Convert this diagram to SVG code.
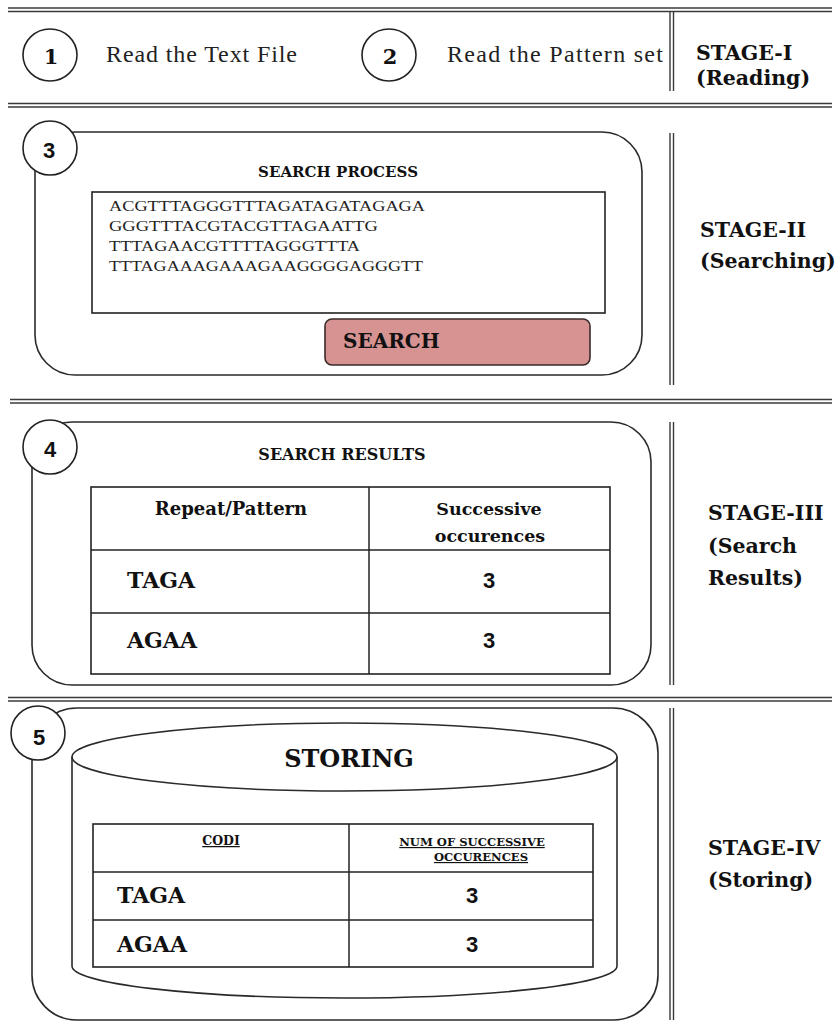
<svg xmlns="http://www.w3.org/2000/svg" width="840" height="1029" viewBox="0 0 840 1029">
<style>
.sep{stroke:#3a3a3a;stroke-width:1.4;fill:none}
.box{fill:none;stroke:#2a2a2a;stroke-width:1.6}
.tbl{fill:#fff;stroke:#222;stroke-width:1.6}
.tl{stroke:#222;stroke-width:1.5}
.nc{fill:#fff;stroke:#222;stroke-width:1.6}
.b{font-family:"DejaVu Serif","Liberation Serif",serif;font-weight:bold;fill:#111}
.r{font-family:"Liberation Serif","Times New Roman",serif;fill:#222}
.s{font-family:"Liberation Sans",Arial,sans-serif;font-weight:bold;fill:#111}
.dna{font-family:"Liberation Serif","Times New Roman",serif;font-size:15px;fill:#222}
.stage{font-size:20.5px}
</style>
<rect width="840" height="1029" fill="#fff"/>
<g id="separators">
<line class="sep" x1="8" y1="8" x2="832" y2="8"/><line class="sep" x1="8" y1="11.5" x2="832" y2="11.5"/>
<line class="sep" x1="8" y1="103.5" x2="832" y2="103.5"/><line class="sep" x1="8" y1="107" x2="832" y2="107"/>
<line class="sep" x1="10" y1="399.5" x2="832" y2="399.5"/><line class="sep" x1="10" y1="403" x2="832" y2="403"/>
<line class="sep" x1="8" y1="697.5" x2="832" y2="697.5"/><line class="sep" x1="8" y1="701" x2="832" y2="701"/>
<line class="sep" x1="670" y1="12" x2="670" y2="91"/><line class="sep" x1="673.5" y1="12" x2="673.5" y2="91"/>
<line class="sep" x1="670" y1="133" x2="670" y2="385"/><line class="sep" x1="673.5" y1="133" x2="673.5" y2="385"/>
<line class="sep" x1="670" y1="422" x2="670" y2="685"/><line class="sep" x1="673.5" y1="422" x2="673.5" y2="685"/>
<line class="sep" x1="670" y1="708" x2="670" y2="1020"/><line class="sep" x1="673.5" y1="708" x2="673.5" y2="1020"/>
</g>
<g id="stage1">
<g id="step1">
<ellipse class="nc" cx="50" cy="55" rx="27" ry="26"/>
<text class="b" x="51" y="64" font-size="21" text-anchor="middle">1</text>
<text class="r" x="106" y="62" font-size="24" textLength="191">Read the Text File</text>
</g>
<g id="step2">
<ellipse class="nc" cx="389" cy="55" rx="27" ry="26"/>
<text class="b" x="390" y="64" font-size="21" text-anchor="middle">2</text>
<text class="r" x="447" y="62" font-size="24" textLength="216">Read the Pattern set</text>
</g>
<g id="label1">
<text class="b stage" x="696" y="60" font-size="21">STAGE-I</text>
<text class="b stage" x="696" y="85">(Reading)</text>
</g>
</g>
<g id="stage2">
<rect class="box" x="35" y="132" width="607" height="243" rx="40"/>
<g id="step3">
<circle class="nc" cx="50" cy="148" r="27"/>
<text class="s" x="49" y="158" font-size="22" text-anchor="middle">3</text>
</g>
<text class="b" x="338" y="177" font-size="15" text-anchor="middle" textLength="160">SEARCH PROCESS</text>
<g id="textbox">
<rect class="tbl" x="92" y="192" width="513" height="121"/>
<text class="dna" x="109" y="211" textLength="316" lengthAdjust="spacingAndGlyphs">ACGTTTAGGGTTTAGATAGATAGAGA</text>
<text class="dna" x="109" y="231" textLength="269" lengthAdjust="spacingAndGlyphs">GGGTTTACGTACGTTAGAATTG</text>
<text class="dna" x="109" y="251" textLength="251" lengthAdjust="spacingAndGlyphs">TTTAGAACGTTTTAGGGTTTA</text>
<text class="dna" x="109" y="271" textLength="314" lengthAdjust="spacingAndGlyphs">TTTAGAAAGAAAGAAGGGGAGGGTT</text>
</g>
<g id="search-button">
<rect x="325" y="319" width="265" height="46" rx="7" fill="#d69392" stroke="#3a2a2a" stroke-width="1.6"/>
<text class="b" x="343" y="348" font-size="20">SEARCH</text>
</g>
<g id="label2">
<text class="b stage" x="700" y="237" font-size="21">STAGE-II</text>
<text class="b stage" x="700" y="268">(Searching)</text>
</g>
</g>
<g id="stage3">
<rect class="box" x="32" y="422" width="619" height="263" rx="40"/>
<g id="step4">
<circle class="nc" cx="50" cy="447" r="27"/>
<text class="s" x="50" y="457" font-size="22" text-anchor="middle">4</text>
</g>
<text class="b" x="342" y="460" font-size="16" text-anchor="middle">SEARCH RESULTS</text>
<g id="results-table">
<rect class="tbl" x="91" y="487" width="519" height="187"/>
<line class="tl" x1="369" y1="487" x2="369" y2="674"/>
<line class="tl" x1="91" y1="550" x2="610" y2="550"/>
<line class="tl" x1="91" y1="613" x2="610" y2="613"/>
<text class="b" x="231" y="515" font-size="18" text-anchor="middle">Repeat/Pattern</text>
<text class="b" x="489" y="515" font-size="17.5" text-anchor="middle">Successive</text>
<text class="b" x="490" y="542" font-size="17.5" text-anchor="middle">occurences</text>
<text class="b" x="127" y="588" font-size="22">TAGA</text>
<text class="b" x="127" y="648" font-size="22">AGAA</text>
<text class="s" x="489" y="588" font-size="22" text-anchor="middle">3</text>
<text class="s" x="489" y="648" font-size="22" text-anchor="middle">3</text>
</g>
<g id="label3">
<text class="b stage" x="708" y="520">STAGE-III</text>
<text class="b stage" x="708" y="553">(Search</text>
<text class="b stage" x="708" y="585">Results)</text>
</g>
</g>
<g id="stage4">
<rect class="box" x="32" y="708" width="626" height="312" rx="45"/>
<g id="step5">
<circle class="nc" cx="38" cy="733" r="27"/>
<text class="s" x="39" y="745" font-size="22" text-anchor="middle">5</text>
</g>
<g id="storage">
<path class="box" d="M72,757 L72,966 A272.5,32 0 0 0 617,966 L617,757"/>
<ellipse class="box" cx="344.5" cy="757" rx="272.5" ry="34"/>
<text class="b" x="349" y="767" font-size="24" text-anchor="middle">STORING</text>
<rect class="tbl" x="93" y="824" width="500" height="143"/>
<line class="tl" x1="349" y1="824" x2="349" y2="967"/>
<line class="tl" x1="93" y1="872" x2="593" y2="872"/>
<line class="tl" x1="93" y1="920" x2="593" y2="920"/>
<text class="b" x="221" y="845" font-size="12.5" text-anchor="middle" text-decoration="underline">CODI</text>
<text class="b" x="472" y="846" font-size="11.6" text-anchor="middle" text-decoration="underline">NUM OF SUCCESSIVE</text>
<text class="b" x="481" y="861" font-size="11.6" text-anchor="middle" text-decoration="underline">OCCURENCES</text>
<text class="b" x="117" y="903" font-size="22">TAGA</text>
<text class="b" x="117" y="952" font-size="22">AGAA</text>
<text class="s" x="472" y="903" font-size="22" text-anchor="middle">3</text>
<text class="s" x="472" y="952" font-size="22" text-anchor="middle">3</text>
</g>
<g id="label4">
<text class="b stage" x="708" y="855">STAGE-IV</text>
<text class="b stage" x="708" y="887">(Storing)</text>
</g>
</g>
</svg>
